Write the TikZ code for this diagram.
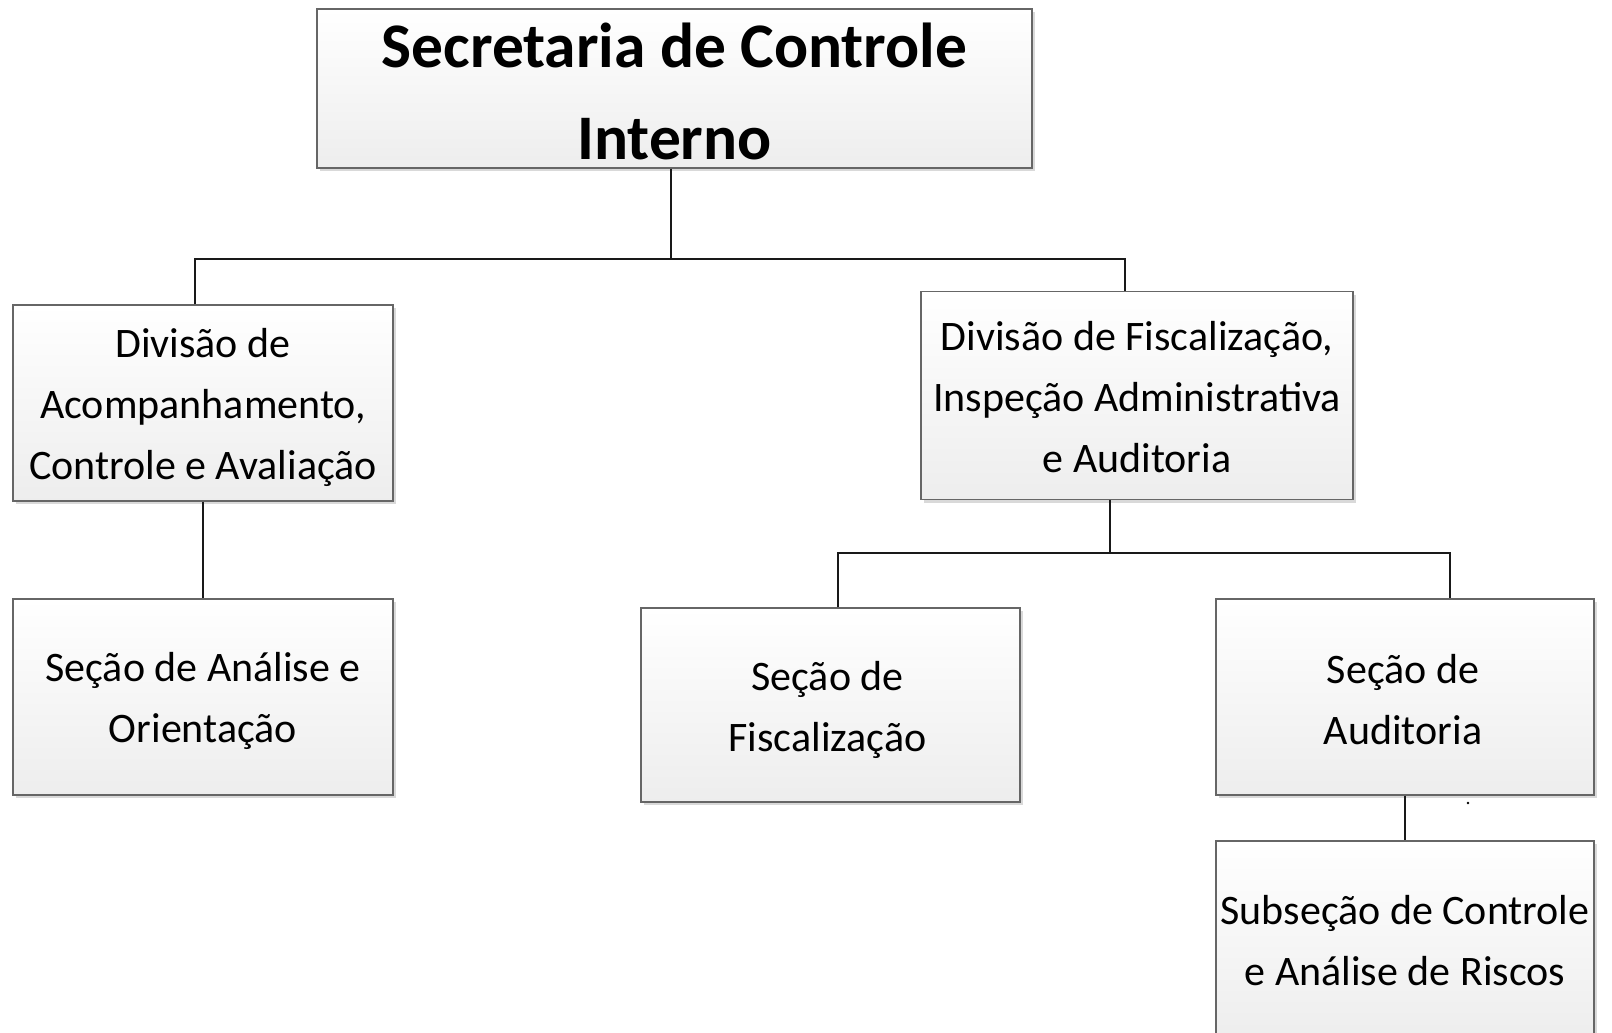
\documentclass[tikz,border=0pt]{standalone}
\usepackage{fontspec}
\setmainfont{Carlito}
\usetikzlibrary{shadows}
\begin{document}
\begin{tikzpicture}[x=1pt,y=-1pt,
  box/.style={draw=black!60, line width=1.2pt, rectangle, inner sep=0pt,
    top color=white, bottom color=black!7,
    drop shadow={shadow xshift=3pt, shadow yshift=-3pt, fill=black!15, opacity=1}},
  txt/.style={align=center, inner sep=0pt, font=\fontsize{42}{61}\selectfont},
  conn/.style={draw=black!90, line width=2.4pt}]
\useasboundingbox (0,0) rectangle (1612,1033);
\node[box, minimum width=715pt, minimum height=159pt] (sec) at (674.5,88.5) {};
\node[box, minimum width=380pt, minimum height=196pt] (div1) at (203,403) {};
\node[box, minimum width=432pt, minimum height=208pt] (div2) at (1137,395.5) {};
\node[box, minimum width=380pt, minimum height=196pt] (secao1) at (203,697) {};
\node[box, minimum width=379pt, minimum height=194pt] (secf) at (830.5,705) {};
\node[box, minimum width=378pt, minimum height=196pt] (seca) at (1405,697) {};
\node[box, minimum width=378pt, minimum height=198pt] (sub) at (1405,940) {};
\node[txt, font=\fontsize{63.5}{92}\selectfont\bfseries] (tsec) at ([yshift=-3pt]sec.center) {Secretaria de Controle\\Interno};
\node[txt] (tdiv1) at ([yshift=-4pt]div1.center) {Divisão de\\Acompanhamento,\\Controle e Avaliação};
\node[txt] (tdiv2) at ([yshift=-2pt]div2.center) {Divisão de Fiscalização,\\Inspeção Administrativa\\e Auditoria};
\node[txt] (tsecao1) at ([yshift=-4pt]secao1.center) {Seção de Análise e\\Orientação};
\node[txt] (tsecf) at ([shift={(-3pt,-5pt)}]secf.center) {Seção de\\Fiscalização};
\node[txt] (tseca) at ([shift={(-2pt,-3pt)}]seca.center) {Seção de\\Auditoria};
\node[txt] (tsub) at ([yshift=-1pt]sub.center) {Subseção de Controle\\e Análise de Riscos};
\coordinate (bus1) at (671,259);
\coordinate (bus2) at (1110,553);
\coordinate (d1) at (195,0);
\coordinate (d2) at (1125,0);
\coordinate (d3) at (838,0);
\coordinate (d4) at (1450,0);
\draw[conn] (bus1 |- sec.south) -- (bus1);
\draw[conn] (d1 |- div1.north) -- (d1 |- bus1) -- (d2 |- bus1) -- (d2 |- div2.north);
\draw[conn] (div1.south) -- (secao1.north);
\draw[conn] (bus2 |- div2.south) -- (bus2);
\draw[conn] (d3 |- secf.north) -- (d3 |- bus2) -- (d4 |- bus2) -- (d4 |- seca.north);
\draw[conn] (seca.south) -- (sub.north);
\fill[black] (1468,803) circle (1.3pt);
\end{tikzpicture}
\end{document}
